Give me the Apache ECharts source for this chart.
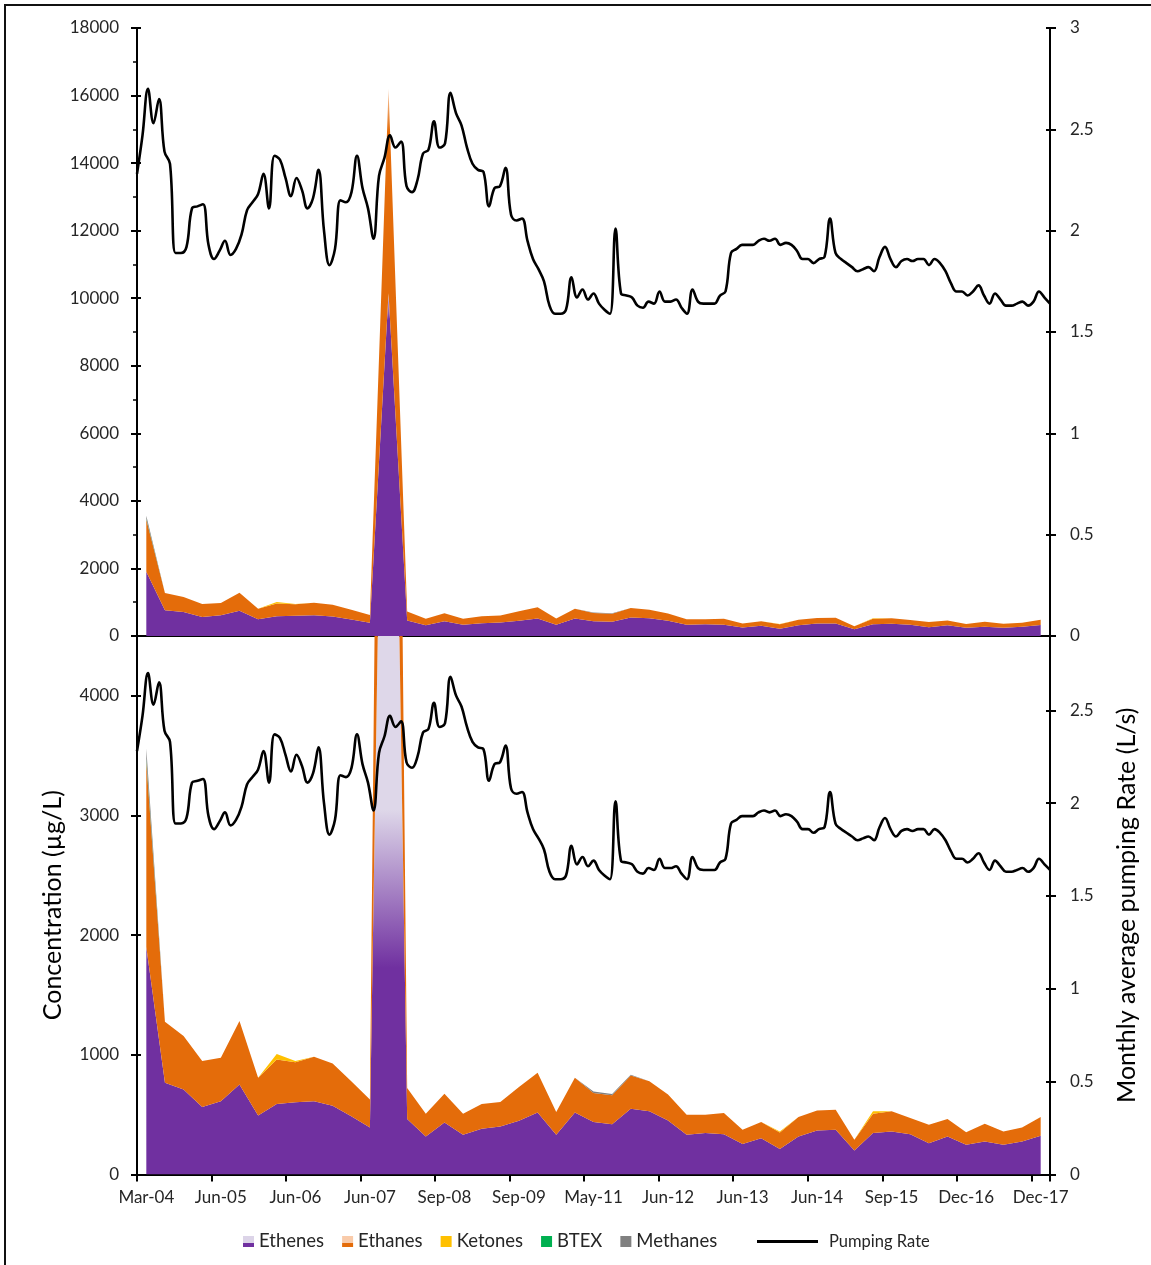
<!DOCTYPE html>
<html>
<head>
<meta charset="utf-8">
<title>Concentration and pumping rate</title>
<script src="https://cdn.jsdelivr.net/npm/echarts@6/dist/echarts.min.js"></script>
<style>
    html, body {
        margin: 0;
        padding: 0;
        overflow: hidden;
        background: #fff;
    }
    #frame {
        position: absolute;
        left: 4px;
        top: 4px;
        width: 1200px;
        height: 1300px;
        border: 2px solid #111;
    }
    #charts {
        position: absolute;
        left: 0;
        top: 0;
        width: 1151px;
        height: 1265px;
    }
</style>
</head>
<body>
<div id="frame"></div>
<div id="charts"></div>
<script>

    // x axis labels, one every 4 sampling events
    var tickLabels = ['Mar-04', 'Jun-05', 'Jun-06', 'Jun-07', 'Sep-08', 'Sep-09', 'May-11',
        'Jun-12', 'Jun-13', 'Jun-14', 'Sep-15', 'Dec-16', 'Dec-17'];
    var samplesPerLabel = 4;

    // concentrations per sampling event (µg/L)
    var ethenes = [1900, 765, 709, 563, 611, 751, 493, 588, 602, 611, 574, 485, 392, 10150,
        462, 317, 434, 331, 381, 401, 448, 518, 331, 518, 437, 420, 549, 527, 451, 331,
        345, 336, 255, 303, 213, 317, 367, 373, 199, 345, 359, 336, 261, 317, 247, 275,
        247, 275, 322];
    var ethanes = [1550, 510, 448, 384, 364, 532, 314, 373, 336, 372, 353, 294, 233, 6050,
        261, 190, 241, 176, 207, 204, 283, 331, 190, 289, 244, 241, 277, 252, 216, 168,
        154, 177, 118, 134, 137, 162, 168, 168, 90, 162, 168, 135, 154, 145, 106, 148,
        112, 117, 157];
    var ketones = [0, 0, 0, 0, 0, 0, 0, 45, 10, 0, 0, 0, 0, 0, 0, 0, 0, 0, 0, 0, 0, 0, 0, 0,
        0, 0, 0, 0, 0, 0, 0, 0, 0, 0, 8, 0, 0, 0, 0, 20, 0, 0, 0, 0, 0, 0, 0, 0, 0];
    var btex = [20, 0, 0, 0, 0, 0, 0, 0, 0, 0, 0, 0, 0, 0, 0, 0, 0, 0, 0, 0, 0, 0, 0, 0,
        0, 0, 0, 0, 0, 0, 0, 0, 0, 0, 0, 0, 0, 0, 0, 0, 0, 0, 0, 0, 0, 0, 0, 0, 0];
    var methanes = [90, 0, 0, 0, 0, 0, 0, 0, 0, 0, 0, 0, 0, 0, 0, 0, 0, 0, 0, 0, 0, 0, 0, 0,
        12, 12, 6, 0, 0, 0, 0, 0, 0, 0, 0, 0, 0, 0, 0, 0, 0, 0, 0, 0, 0, 0, 0, 0, 0];

    // monthly average pumping rate (L/s)
    var pumpingRate = [
        2.28, 2.47, 2.70, 2.53, 2.65, 2.39, 2.33, 1.89, 1.89, 1.92,
        2.11, 2.12, 2.13, 1.93, 1.86, 1.90, 1.95, 1.88, 1.91, 1.98,
        2.10, 2.14, 2.18, 2.28, 2.11, 2.37, 2.35, 2.26, 2.17, 2.26,
        2.20, 2.11, 2.16, 2.30, 2.00, 1.83, 1.91, 2.15, 2.14, 2.19,
        2.37, 2.21, 2.11, 1.96, 2.27, 2.36, 2.47, 2.41, 2.44, 2.22,
        2.19, 2.25, 2.38, 2.40, 2.54, 2.41, 2.43, 2.68, 2.58, 2.52,
        2.41, 2.33, 2.30, 2.29, 2.12, 2.21, 2.22, 2.31, 2.08, 2.05,
        2.06, 1.95, 1.86, 1.81, 1.75, 1.63, 1.59, 1.59, 1.61, 1.77,
        1.67, 1.71, 1.66, 1.69, 1.64, 1.61, 1.59, 2.01, 1.69, 1.68,
        1.67, 1.63, 1.62, 1.65, 1.64, 1.70, 1.65, 1.65, 1.66, 1.62,
        1.59, 1.71, 1.65, 1.64, 1.64, 1.64, 1.68, 1.70, 1.89, 1.91,
        1.93, 1.93, 1.93, 1.95, 1.96, 1.95, 1.96, 1.93, 1.94, 1.93,
        1.90, 1.86, 1.86, 1.84, 1.86, 1.87, 2.06, 1.89, 1.86, 1.84,
        1.82, 1.80, 1.81, 1.82, 1.80, 1.87, 1.92, 1.86, 1.82, 1.85,
        1.86, 1.85, 1.86, 1.86, 1.83, 1.86, 1.84, 1.80, 1.74, 1.70,
        1.70, 1.68, 1.70, 1.73, 1.68, 1.64, 1.69, 1.66, 1.63, 1.63,
        1.64, 1.65, 1.63, 1.65, 1.70, 1.67, 1.64
    ];

    var FONT = 'Lato';
    var TEXT = '#262626';
    var PURPLE = '#7030A0';
    var ORANGE = '#E46C0A';

    var sampleIndex = ethenes.map(function (v, i) { return String(i); });
    var monthIndex = pumpingRate.map(function (v, i) { return String(i); });

    var chart = echarts.init(document.getElementById('charts'));


    /**
     * 竖直渐变, 顶部浅色
     *
     * @param {string} light 顶部颜色
     * @param {string} dark 主色
     * @param {number} from 浅色结束处
     * @param {number} to 主色开始处
     * @return {Object}
     */
    function fade(light, dark, from, to) {
        return {
            type: 'linear', x: 0, y: 0, x2: 0, y2: 1,
            colorStops: [
                {offset: 0, color: light},
                {offset: from, color: light},
                {offset: to, color: dark},
                {offset: 1, color: dark}
            ]
        };
    }

    function axisLine() {
        return {show: true, onZero: false, lineStyle: {color: '#000', width: 2}};
    }

    /**
     * 数值轴, 刻度线画在轴外侧; 另建一个只画内侧刻度的同轴, 拼成十字刻度
     */
    function valueAxis(grid, side, max, interval, extra) {
        var axis = {
            type: 'value',
            gridIndex: grid,
            position: side,
            min: 0,
            max: max,
            interval: interval,
            axisLine: axisLine(),
            axisTick: {show: true, length: 6, lineStyle: {color: '#000', width: 2}},
            splitLine: {show: false},
            axisLabel: {
                color: TEXT, fontFamily: FONT, fontSize: 17,
                margin: side === 'left' ? 18 : 20,
                showMaxLabel: max % interval === 0,
                formatter: function (v) { return String(v); }
            }
        };
        return Object.assign(axis, extra || {});
    }

    function innerTicks(grid, side, max, interval) {
        return {
            type: 'value',
            gridIndex: grid,
            position: side,
            min: 0,
            max: max,
            interval: interval,
            axisLine: {show: false},
            axisTick: {show: true, inside: true, length: 4, lineStyle: {color: '#000', width: 2}},
            splitLine: {show: false},
            axisLabel: {show: false}
        };
    }

    function areaSeries(name, data, stack, x, y, fill) {
        return {
            name: name,
            type: 'line',
            xAxisIndex: x,
            yAxisIndex: y,
            stack: stack,
            data: data,
            symbol: 'none',
            lineStyle: {width: 0},
            areaStyle: {color: fill, opacity: 1},
            itemStyle: {color: typeof fill === 'string' ? fill : fill.colorStops[3].color},
            emphasis: {disabled: true},
            z: 2
        };
    }

    function pumpSeries(x, y) {
        return {
            name: 'Pumping Rate',
            type: 'line',
            xAxisIndex: x,
            yAxisIndex: y,
            data: pumpingRate,
            smooth: 0.4,
            symbol: 'none',
            lineStyle: {color: '#000', width: 2.6},
            itemStyle: {color: '#000'},
            z: 5
        };
    }

    function stackSeries(stack, x, y, etheneFill, ethaneFill) {
        return [
            areaSeries('Ethenes', ethenes, stack, x, y, etheneFill),
            areaSeries('Ethanes', ethanes, stack, x, y, ethaneFill),
            areaSeries('Ketones', ketones, stack, x, y, '#FFC000'),
            areaSeries('BTEX', btex, stack, x, y, '#00B050'),
            areaSeries('Methanes', methanes, stack, x, y, '#808080')
        ];
    }

    var option = {
        animation: false,
        textStyle: {fontFamily: FONT},
        grid: [
            {left: 137, right: 101, top: 28, height: 608},
            {left: 137, right: 101, top: 636, height: 538.4}
        ],
        xAxis: [
            {
                type: 'category', gridIndex: 0, data: sampleIndex, boundaryGap: true,
                axisLine: axisLine(), axisTick: {show: false}, axisLabel: {show: false}
            },
            {
                type: 'category', gridIndex: 0, data: monthIndex, boundaryGap: false, show: false
            },
            {
                type: 'category', gridIndex: 1, data: sampleIndex, boundaryGap: true,
                axisLine: axisLine(),
                axisTick: {show: true, interval: samplesPerLabel - 1, length: 7,
                    lineStyle: {color: '#000', width: 2}},
                axisLabel: {
                    interval: samplesPerLabel - 1,
                    margin: 15,
                    color: TEXT, fontFamily: FONT, fontSize: 17,
                    formatter: function (v, i) {
                        return tickLabels[i / samplesPerLabel] || '';
                    }
                }
            },
            {
                type: 'category', gridIndex: 1, data: monthIndex, boundaryGap: false, show: false
            }
        ],
        yAxis: [
            valueAxis(0, 'left', 18000, 2000, {
                minorTick: {show: true, splitNumber: 2, length: 4, lineStyle: {color: '#000', width: 1.5}}
            }),
            valueAxis(0, 'right', 3, 0.5),
            valueAxis(1, 'left', 4500, 1000, {
                name: 'Concentration (µg/L)',
                nameLocation: 'middle',
                nameGap: 72,
                nameTextStyle: {color: '#000', fontFamily: FONT, fontSize: 25}
            }),
            valueAxis(1, 'right', 2.9, 0.5, {
                name: 'Monthly average pumping Rate (L/s)',
                nameLocation: 'middle',
                nameGap: 64,
                nameTextStyle: {color: '#000', fontFamily: FONT, fontSize: 25}
            }),
            innerTicks(0, 'left', 18000, 2000),
            innerTicks(0, 'right', 3, 0.5),
            innerTicks(1, 'left', 4500, 1000),
            innerTicks(1, 'right', 2.9, 0.5)
        ],
        legend: [
            {
                left: 238,
                top: 1227,
                itemWidth: 11,
                itemHeight: 11,
                itemGap: 18,
                icon: 'rect',
                textStyle: {color: TEXT, fontFamily: FONT, fontSize: 18.5},
                data: [
                    {name: 'Ethenes', itemStyle: {color: fade('#DCD4E8', PURPLE, 0.6, 0.62)}},
                    {name: 'Ethanes', itemStyle: {color: fade('#F9CBAA', ORANGE, 0.6, 0.62)}},
                    {name: 'Ketones', itemStyle: {color: '#FFC000'}},
                    {name: 'BTEX', itemStyle: {color: '#00B050'}},
                    {name: 'Methanes', itemStyle: {color: '#808080'}}
                ]
            },
            {
                left: 752,
                top: 1228,
                itemWidth: 61,
                itemHeight: 3,
                icon: 'rect',
                textStyle: {color: TEXT, fontFamily: FONT, fontSize: 16.5, padding: [0, 0, 0, 6]},
                data: [{name: 'Pumping Rate', itemStyle: {color: '#000'}}]
            }
        ],
        series: [].concat(
            stackSeries('top', 0, 0,
                fade('#D9CCE6', PURPLE, 0, 0.08),
                fade('#F7C9A6', ORANGE, 0, 0.08)),
            [pumpSeries(1, 1)],
            stackSeries('bottom', 2, 2,
                fade('#DED7E9', PURPLE, 0.70, 0.83),
                fade('#F7C9A6', ORANGE, 0, 0.06)),
            [pumpSeries(3, 3)]
        )
    };

    chart.setOption(option);

</script>
</body>
</html>
